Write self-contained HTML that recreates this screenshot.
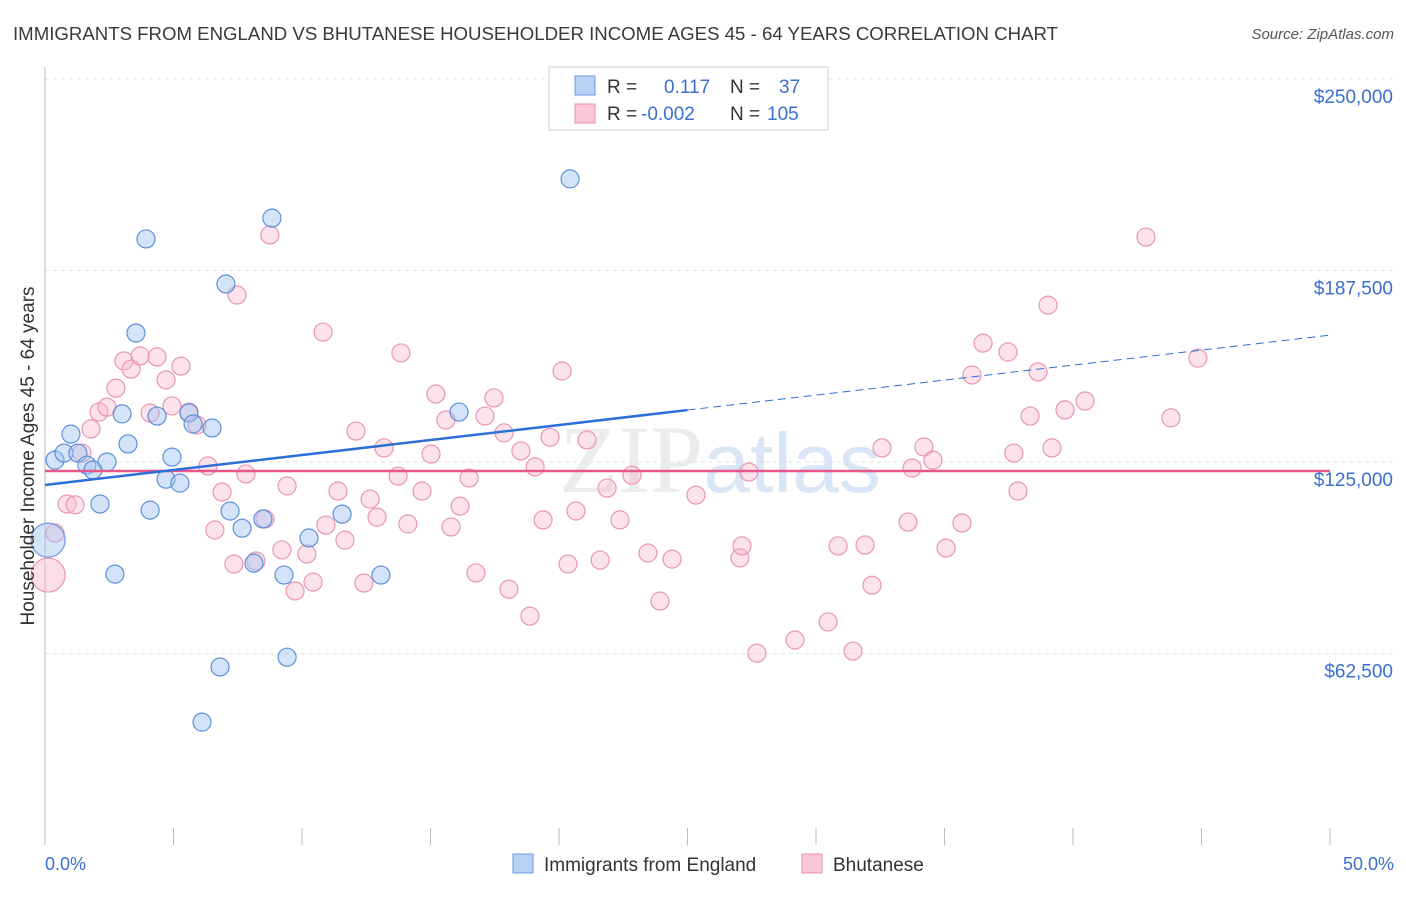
<!DOCTYPE html>
<html><head><meta charset="utf-8"><style>
body{margin:0;background:#fff;font-family:"Liberation Sans",sans-serif;}
</style></head><body>
<svg width="1406" height="892" xmlns="http://www.w3.org/2000/svg" style="font-family:'Liberation Sans',sans-serif">
<text x="13" y="40" font-size="18" fill="#3a3a3a" textLength="1045" lengthAdjust="spacingAndGlyphs">IMMIGRANTS FROM ENGLAND VS BHUTANESE HOUSEHOLDER INCOME AGES 45 - 64 YEARS CORRELATION CHART</text>
<text x="1394" y="39" font-size="15" fill="#555" font-style="italic" text-anchor="end">Source: ZipAtlas.com</text>
<text x="720" y="492" font-size="96" fill="#ececec" text-anchor="middle" font-family="'Liberation Serif',serif">ZIP<tspan fill="#d9e6f5" font-family="'Liberation Sans',sans-serif" font-size="84">atlas</tspan></text>
<g id="grid"></g>
<g id="axes"></g>
<g id="marks"></g>
<text transform="translate(34,456) rotate(-90)" font-size="19" fill="#333" text-anchor="middle">Householder Income Ages 45 - 64 years</text>
<text x="45" y="870" font-size="18" fill="#3a6fd0">0.0%</text>
<text x="1394" y="870" font-size="18" fill="#3a6fd0" text-anchor="end">50.0%</text>
<g>
<rect x="549" y="67" width="279" height="63" fill="#fff" stroke="#ccc"/>
<rect x="575" y="76" width="20" height="19" fill="#b9d2f3" stroke="#6b9ae0"/>
<rect x="575" y="104" width="20" height="19" fill="#f8c6d4" stroke="#e892ae"/>
<text x="607" y="93" font-size="19" fill="#333">R =</text>
<text x="664" y="93" font-size="19" fill="#3a6fd0">0.117</text>
<text x="730" y="93" font-size="19" fill="#333">N =</text>
<text x="779" y="93" font-size="19" fill="#3a6fd0">37</text>
<text x="607" y="120" font-size="19" fill="#333">R =</text>
<text x="641" y="120" font-size="19" fill="#3a6fd0">-0.002</text>
<text x="730" y="120" font-size="19" fill="#333">N =</text>
<text x="767" y="120" font-size="19" fill="#3a6fd0">105</text>
</g>
<g>
<rect x="513" y="854" width="20" height="19" fill="#b9d2f3" stroke="#6b9ae0"/>
<text x="544" y="871" font-size="19" fill="#333">Immigrants from England</text>
<rect x="802" y="854" width="20" height="19" fill="#f8c6d4" stroke="#e892ae"/>
<text x="833" y="871" font-size="19" fill="#333">Bhutanese</text>
</g>
</svg>
<script>
const yTicks=[62500,125000,187500,250000];
const yTickLabels=["$62,500","$125,000","$187,500","$250,000"];
const xTicks=[0,5,10,15,20,25,30,35,40,45,50];
const blueX=[0.39,0.74,1.01,1.28,1.63,1.87,2.14,2.41,2.72,3.0,3.23,3.54,3.93,4.09,4.36,4.71,4.94,5.25,5.6,5.76,6.5,6.81,6.11,7.04,7.2,7.67,8.13,8.48,8.83,9.3,9.42,10.27,11.56,13.07,16.11,20.43];
const blueY=[125600,127900,134100,127900,124000,122400,111300,125000,88400,140700,130900,167100,197800,109300,140000,119400,126600,118100,141000,137400,136100,58100,40100,183100,109000,103400,92000,106400,204600,88100,61300,100200,108000,88100,141300,217400];
const blueBigX=[0.12];
const blueBigY=[99500];
const pinkX=[0.39,0.86,1.17,1.44,1.79,2.1,2.41,2.76,3.07,3.35,3.7,4.09,4.36,4.71,4.94,5.29,5.6,5.91,6.34,6.61,6.89,7.35,7.47,7.82,8.21,8.56,8.75,9.22,9.42,9.73,10.19,10.43,10.82,10.93,11.4,11.67,12.1,12.41,12.65,12.92,13.19,13.74,13.85,14.12,14.67,15.02,15.21,15.6,15.8,16.15,16.5,16.77,17.12,17.47,17.86,18.05,18.52,18.87,19.07,19.38,19.65,20.12,20.35,20.66,21.09,21.6,21.87,22.37,22.84,23.46,23.93,24.4,25.33,27.04,27.12,27.39,27.7,29.18,30.47,30.86,31.44,31.91,32.18,32.57,33.58,33.74,34.2,34.55,35.06,35.68,36.07,36.5,37.47,37.7,37.86,38.33,38.64,39.03,39.18,39.69,40.47,42.84,43.81,44.86];
const pinkY=[101800,111300,111000,127900,135800,141300,142900,149100,158000,155300,159600,141000,159300,151800,143300,156300,141300,137100,123700,102800,115200,91700,179500,121100,92700,106400,199100,96300,117200,82900,95000,85800,167400,104400,115500,99500,135100,85500,112900,107000,129600,120400,160600,104800,115500,127600,147200,138700,103800,110600,119800,88800,140000,145900,134500,83500,128600,74700,123400,106100,133100,154700,91700,109000,132200,93000,116500,106100,120700,95300,79600,93300,114200,93700,97600,121700,62600,66900,72800,97600,63300,97900,84800,129600,105400,123000,129900,125600,96900,105100,153400,163800,160900,127900,115500,140000,154400,176200,129600,142000,144900,198400,139400,158900];
const pinkBigX=[0.12];
const pinkBigY=[88100];
const blueTrend=[117500,166400];
const pinkTrend=[122050,122050];

const NS="http://www.w3.org/2000/svg";
const X0=45,X1=1330,Ytop=79,PXPER=191.5/62500;
function xs(p){return X0+p/50*(X1-X0);}
function ys(v){return Ytop+(250000-v)*PXPER;}
function mk(tag,attrs,parent){const e=document.createElementNS(NS,tag);for(const k in attrs)e.setAttribute(k,attrs[k]);parent.appendChild(e);return e;}
const grid=document.getElementById('grid'),axes=document.getElementById('axes'),marks=document.getElementById('marks');
yTicks.forEach((t,i)=>{
  const l=mk('line',{x1:X0,x2:1394,y1:ys(t),y2:ys(t),stroke:'#e2e2e2','stroke-dasharray':'4,4'},grid);
  
  
  const tx=mk('text',{x:1393,y:ys(t)+24,'font-size':19,fill:'#3a6fd0','text-anchor':'end'},axes);
  tx.textContent=yTickLabels[i];
  
  
});
const ya=mk('line',{x1:X0,x2:X0,y1:67,y2:845,stroke:'#bbb'},axes);


xTicks.forEach(t=>{
  const l=mk('line',{x1:xs(t),x2:xs(t),y1:828,y2:845,stroke:'#bbb'},axes);
  
  
});
function dot(x,y,r,fill,stroke,name){
  const c=mk('circle',{cx:xs(x),cy:ys(y),r:r,fill:fill,stroke:stroke,'stroke-width':1.2},marks);
  
  
}
pinkX.forEach((x,i)=>dot(x,pinkY[i],9,'rgba(248,182,202,0.38)','#e996b2','bhutanese-point'));
pinkBigX.forEach((x,i)=>dot(x,pinkBigY[i],17,'rgba(248,182,202,0.45)','#e996b2','bhutanese-point-large'));
blueBigX.forEach((x,i)=>dot(x,blueBigY[i],17,'rgba(160,196,240,0.45)','#6b9ae0','england-point-large'));
blueX.forEach((x,i)=>dot(x,blueY[i],9,'rgba(160,196,240,0.45)','#5d8fdc','england-point'));
const pl=mk('line',{x1:xs(0),x2:xs(50),y1:ys(pinkTrend[0]),y2:ys(pinkTrend[1]),stroke:'#e8578a','stroke-width':2.5},marks);


const bx=25;const bmid=blueTrend[0]+(blueTrend[1]-blueTrend[0])*bx/50;
const bl=mk('line',{x1:xs(0),x2:xs(bx),y1:ys(blueTrend[0]),y2:ys(bmid),stroke:'#2d6fd6','stroke-width':2.5},marks);


const bd=mk('line',{x1:xs(bx),x2:xs(50),y1:ys(bmid),y2:ys(blueTrend[1]),stroke:'#2d6fd6','stroke-width':1,'stroke-dasharray':'8,5'},marks);


</script>
</body></html>
